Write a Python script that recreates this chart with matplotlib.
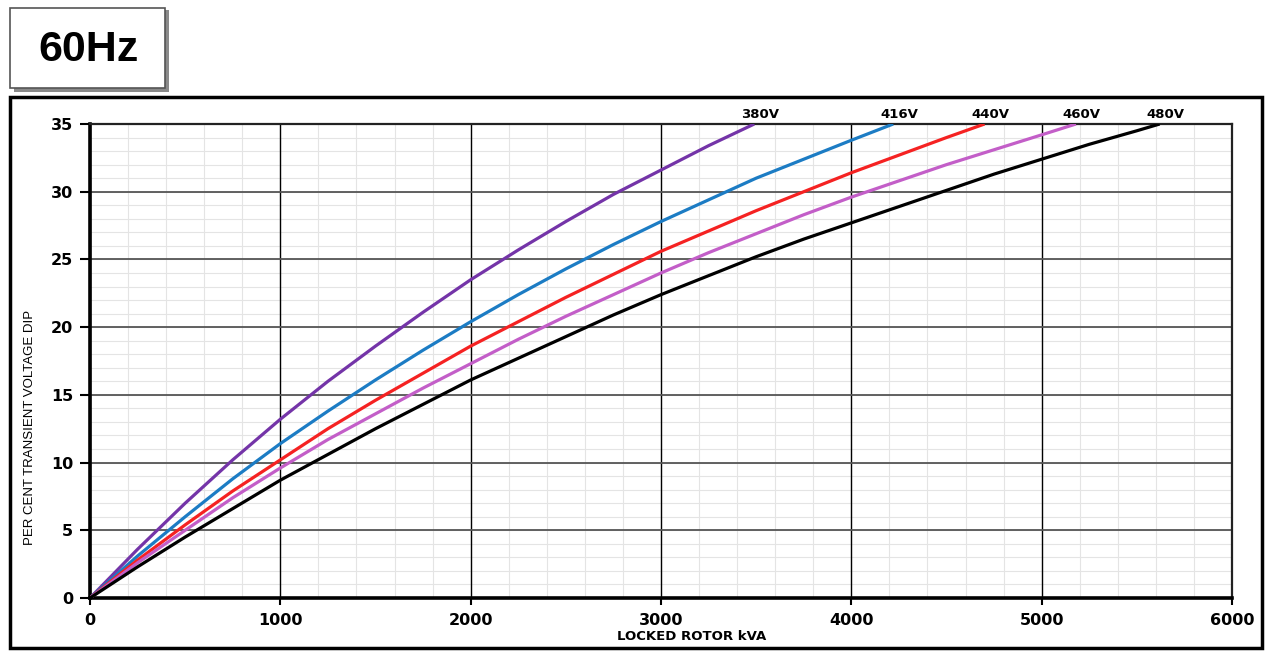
import matplotlib
matplotlib.use("Agg")
import matplotlib.pyplot as plt
import numpy as np
from matplotlib.patches import Rectangle
from matplotlib.ticker import MultipleLocator

# locked rotor kVA vs per cent transient voltage dip, one curve per voltage
kva_380 = [0, 250, 500, 750, 1000, 1250, 1500, 1750, 2000, 2250, 2500, 2750,
           3000, 3250, 3490]
dip_380 = [0, 3.6, 7.0, 10.2, 13.2, 16.0, 18.6, 21.1, 23.5, 25.7, 27.8, 29.8,
           31.6, 33.4, 35.0]

kva_416 = [0, 250, 500, 750, 1000, 1250, 1500, 1750, 2000, 2250, 2500, 2750,
           3000, 3250, 3500, 3750, 4000, 4220]
dip_416 = [0, 3.1, 6.0, 8.8, 11.4, 13.8, 16.1, 18.3, 20.4, 22.4, 24.3, 26.1,
           27.8, 29.4, 31.0, 32.4, 33.8, 35.0]

kva_440 = [0, 250, 500, 750, 1000, 1250, 1500, 1750, 2000, 2250, 2500, 2750,
           3000, 3250, 3500, 3750, 4000, 4250, 4500, 4700]
dip_440 = [0, 2.8, 5.4, 7.9, 10.2, 12.5, 14.6, 16.6, 18.6, 20.4, 22.2, 23.9,
           25.6, 27.1, 28.6, 30.0, 31.4, 32.7, 34.0, 35.0]

kva_460 = [0, 250, 500, 750, 1000, 1250, 1500, 1750, 2000, 2250, 2500, 2750,
           3000, 3250, 3500, 3750, 4000, 4250, 4500, 4750, 5000, 5180]
dip_460 = [0, 2.6, 5.0, 7.4, 9.6, 11.7, 13.6, 15.5, 17.3, 19.1, 20.8, 22.4,
           24.0, 25.5, 26.9, 28.3, 29.6, 30.8, 32.0, 33.1, 34.2, 35.0]

kva_480 = [0, 250, 500, 750, 1000, 1250, 1500, 1750, 2000, 2250, 2500, 2750,
           3000, 3250, 3500, 3750, 4000, 4250, 4500, 4750, 5000, 5250, 5500,
           5620]
dip_480 = [0, 2.3, 4.5, 6.6, 8.7, 10.6, 12.5, 14.3, 16.1, 17.7, 19.3, 20.9,
           22.4, 23.8, 25.2, 26.5, 27.7, 28.9, 30.1, 31.3, 32.4, 33.5, 34.5,
           35.0]

labels = ["380V", "416V", "440V", "460V", "480V"]
colors = ["#7434a8", "#1c7cc4", "#f52222", "#c35ec8", "#000000"]
curves = [(kva_380, dip_380), (kva_416, dip_416), (kva_440, dip_440),
          (kva_460, dip_460), (kva_480, dip_480)]

fig = plt.figure(figsize=(12.65, 6.52), dpi=100)

# outer frame and the "60Hz" tab
fig.patches.append(Rectangle((10 / 1265, 4 / 652), 1252 / 1265, 551 / 652,
                             transform=fig.transFigure, fill=False,
                             edgecolor="black", linewidth=2.5))
fig.patches.append(Rectangle((14 / 1265, 1 - 92 / 652), 155 / 1265, 82 / 652,
                             transform=fig.transFigure, facecolor="#8a8a8a",
                             edgecolor="none"))
fig.patches.append(Rectangle((10 / 1265, 1 - 88 / 652), 155 / 1265, 80 / 652,
                             transform=fig.transFigure, facecolor="white",
                             edgecolor="#555555", linewidth=1.2))
fig.text(88 / 1265, 1 - 50 / 652, "60Hz", fontsize=31, fontweight="bold",
         family="Liberation Sans", ha="center", va="center")

ax = fig.add_axes([90 / 1265, 54 / 652, 1142 / 1265, 474 / 652])

for (x, y), lab, c in zip(curves, labels, colors):
    ax.plot(x, y, color=c, linewidth=2.3, solid_capstyle="butt", zorder=3)
    ax.text(x[-1] + 30, 35.7, lab, fontsize=9.5, fontweight="bold",
            ha="center", va="center", clip_on=False)

ax.set_xlim(0, 6000)
ax.set_ylim(0, 35)
ax.xaxis.set_major_locator(MultipleLocator(1000))
ax.yaxis.set_major_locator(MultipleLocator(5))

# faint minor grid underneath the major one
ax.vlines(np.arange(200, 6000, 200), 0, 35, color="#e4e4e4",
          linewidth=0.8, zorder=0.1)
ax.hlines(np.arange(1, 35, 1), 0, 6000, color="#e4e4e4",
          linewidth=0.8, zorder=0.1)
ax.grid(which="major", axis="y", color="#555555", linewidth=1.3)
ax.grid(which="major", axis="x", color="black", linewidth=1.0)
ax.set_axisbelow(True)

for side in ["left", "bottom"]:
    ax.spines[side].set_linewidth(2.6)
for side in ["top", "right"]:
    ax.spines[side].set_linewidth(1.6)
    ax.spines[side].set_color("#222222")

ax.tick_params(axis="y", which="major", length=7, width=1.5, pad=5,
               labelsize=11.5)
ax.tick_params(axis="x", which="major", length=5, width=1.5, pad=6,
               labelsize=11.5)
for t in ax.get_xticklabels() + ax.get_yticklabels():
    t.set_fontweight("bold")

fig.text(30 / 1265, 1 - 427 / 652, "PER CENT TRANSIENT VOLTAGE DIP",
         rotation=90, ha="center", va="center", fontsize=9.5,
         family=["Liberation Sans Narrow", "Liberation Sans"])
fig.text(692 / 1265, 1 - 637 / 652, "LOCKED ROTOR kVA", ha="center",
         va="center", fontsize=9.5, fontweight="bold")

fig.savefig("out.png", dpi=100)
